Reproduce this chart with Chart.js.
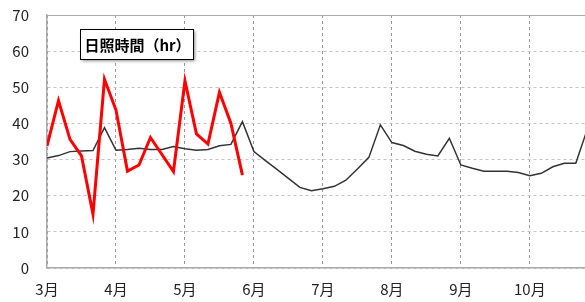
<!DOCTYPE html>
<html>
<head>
<meta charset="utf-8">
<script src="https://cdn.jsdelivr.net/npm/chart.js@4"></script>
<style>
  html, body { margin: 0; padding: 0; background: #fff; overflow: hidden; }
  #wrap { width: 585px; height: 302px; }
</style>
</head>
<body>
<div id="wrap"><canvas id="myChart"></canvas></div>
<script>
// month tick labels (one every 6 half-periods)
const monthLabels = ['3月', '4月', '5月', '6月', '7月', '8月', '9月', '10月'];
const yTicks = [0, 10, 20, 30, 40, 50, 60, 70];

// normal values, 6 points per month from 3/1
const normalHours = [
    30.4, 31.1, 32.2, 32.4, 32.5, 38.8,
    32.6, 32.8, 33.1, 32.8, 32.8, 33.6,
    33.0, 32.6, 32.8, 33.8, 34.2, 40.5,
    32.2, 29.7, 27.3, 24.8, 22.3, 21.4,
    21.9, 22.6, 24.3, 27.4, 30.6, 39.6,
    34.7, 33.9, 32.3, 31.5, 31.0, 35.9,
    28.5, 27.6, 26.8, 26.8, 26.8, 26.4,
    25.5, 26.2, 28.0, 29.0, 29.0, 38.4
];

// this year's values
const thisYearHours = [
    33.8, 46.3, 35.6, 31.0, 14.9, 52.2,
    43.7, 26.8, 28.5, 36.1, 31.4, 26.7,
    51.8, 37.1, 34.3, 48.6, 40.0, 25.7
];

const FONT = "'Noto Sans CJK JP', 'Noto Sans', sans-serif";

const toPoints = arr => arr.map((v, i) => ({ x: i, y: v }));

// legend-like label box + solid top border
const boxPlugin = {
    id: 'boxPlugin',
    afterDraw(chart) {
        const ctx = chart.ctx;
        const area = chart.chartArea;
        ctx.save();
        ctx.strokeStyle = '#aaa';
        ctx.lineWidth = 1;
        ctx.beginPath();
        ctx.moveTo(area.left, area.top + 0.5);
        ctx.lineTo(area.right, area.top + 0.5);
        ctx.stroke();

        const x = 80, y = 29, w = 113, h = 30;
        ctx.shadowColor = 'rgba(0,0,0,0.45)';
        ctx.shadowBlur = 3;
        ctx.shadowOffsetX = 2;
        ctx.shadowOffsetY = 2;
        ctx.fillStyle = '#fff';
        ctx.fillRect(x, y, w, h);
        ctx.shadowColor = 'transparent';
        ctx.strokeStyle = '#000';
        ctx.lineWidth = 1;
        ctx.strokeRect(x + 0.5, y + 0.5, w, h);
        ctx.fillStyle = '#000';
        ctx.font = 'bold 15px ' + FONT;
        ctx.textAlign = 'center';
        ctx.textBaseline = 'middle';
        ctx.fillText('日照時間（hr）', x + w / 2 + 1, y + h / 2 + 1);
        ctx.restore();
    }
};

const ctx = document.getElementById('myChart').getContext('2d');
const myChart = new Chart(ctx, {
    type: 'line',
    data: {
        datasets: [
            {
                label: '今年',
                data: toPoints(thisYearHours),
                borderColor: '#ff0000',
                borderWidth: 3,
                pointRadius: 0,
                tension: 0,
                order: 0
            },
            {
                label: '平年',
                data: toPoints(normalHours),
                borderColor: '#333',
                borderWidth: 1.5,
                pointRadius: 0,
                tension: 0,
                order: 1
            }
        ]
    },
    plugins: [boxPlugin],
    options: {
        responsive: true,
        maintainAspectRatio: false,
        animation: false,
        layout: { padding: { top: 15, left: 0, right: 0, bottom: 0 } },
        plugins: {
            legend: { display: false },
            tooltip: { enabled: false }
        },
        scales: {
            x: {
                type: 'linear',
                min: 0,
                max: 46.8,
                afterBuildTicks: scale => {
                    scale.ticks = monthLabels.map((m, i) => ({ value: i * 6 }));
                },
                afterFit: scale => { scale.height = 34; },
                ticks: {
                    includeBounds: false,
                    autoSkip: false,
                    maxRotation: 0,
                    padding: 12,
                    color: '#222',
                    font: { family: FONT, size: 15 },
                    callback: v => monthLabels[v / 6]
                },
                grid: { color: '#999', lineWidth: 1, drawTicks: false },
                border: { color: '#aaa', width: 1.5, dash: [3, 3] }
            },
            y: {
                min: 0,
                max: 70,
                afterBuildTicks: scale => {
                    scale.ticks = yTicks.map(v => ({ value: v }));
                },
                afterFit: scale => {
                    scale.width = 47;
                    scale.paddingTop = 0;
                    scale.paddingBottom = 0;
                },
                ticks: {
                    padding: 18,
                    color: '#222',
                    font: { family: FONT, size: 15 }
                },
                grid: { color: '#c4c4c4', lineWidth: 1, drawTicks: false },
                border: { color: '#aaa', width: 1.5, dash: [3, 3] }
            }
        }
    }
});
</script>
</body>
</html>
